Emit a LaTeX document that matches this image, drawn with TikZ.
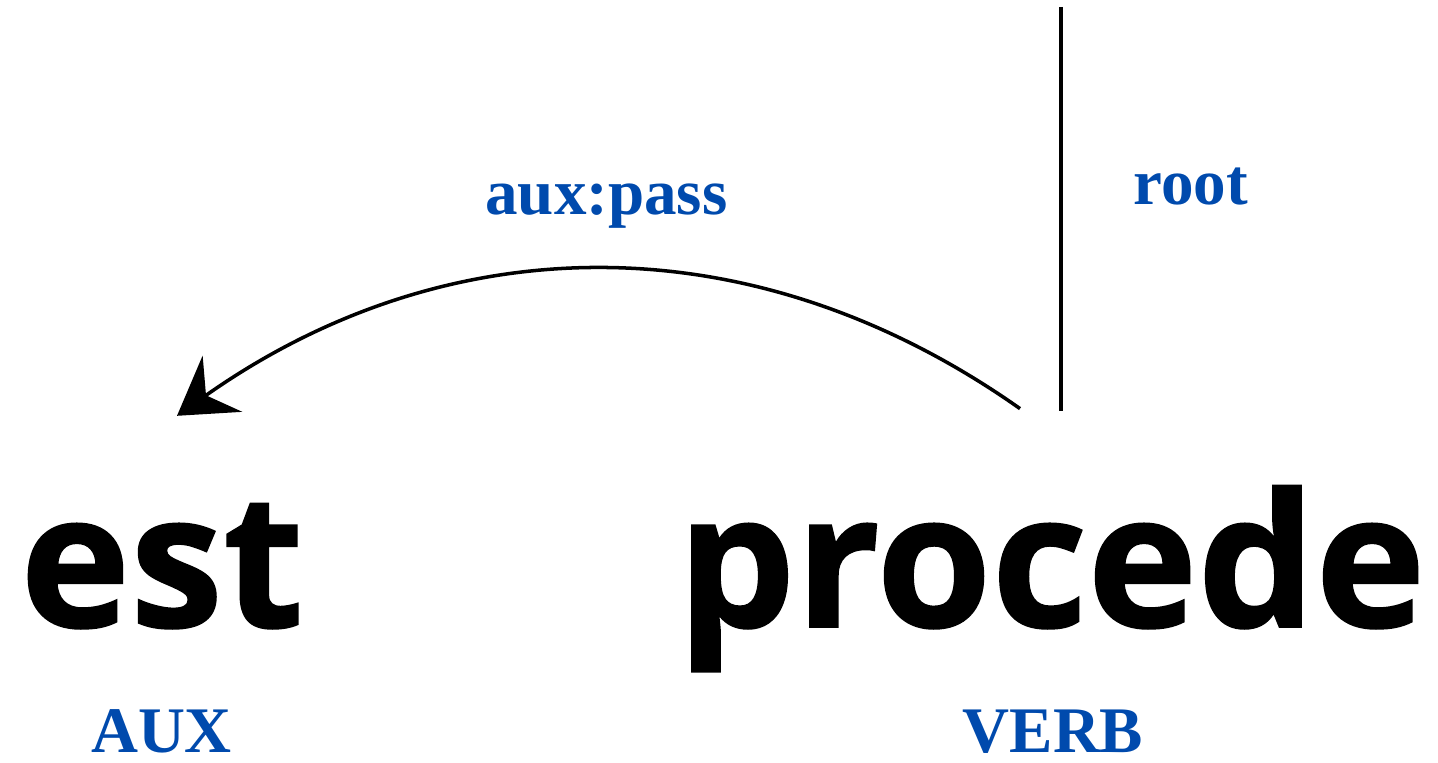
\documentclass[tikz,border=0pt]{standalone}
\usepackage{fontspec}
\newfontfamily\wordfont{Open Sans}[BoldFeatures={FakeBold=1}]
\newfontfamily\labelfont{Liberation Serif}
\usetikzlibrary{arrows.meta}
\definecolor{deplabel}{RGB}{0,74,173}

\begin{document}
\begin{tikzpicture}[
    word/.style={inner sep=0pt, anchor=base, font=\wordfont\bfseries\fontsize{106}{106}\selectfont},
    tag/.style={inner sep=0pt, anchor=base, text=deplabel, font=\labelfont\bfseries\fontsize{37}{37}\selectfont},
    dep/.style={line width=2pt, -{Stealth[length=1.11cm, width=1.37cm, inset=0.4cm]}},
    rootline/.style={line width=2.3pt}
]
    \useasboundingbox (0,0) rectangle (28.76,15.24);

    \node[word] (est)     at (3.24, 2.70)  {est};
    \node[word] (procede) at (21.03, 2.70) {procede};

    \node[tag] (aux)  at (3.23, 0.19)  {AUX};
    \node[tag] (verb) at (21.06, 0.19) {VERB};

    \node[tag] (auxpass) at (12.13, 10.94) {aux:pass};
    \node[tag, anchor=base west] (root) at (22.66, 11.14) {root};

    % root line
    \coordinate (roottop) at (21.22, 15.1);
    \draw[rootline] (roottop) -- ([xshift=0.19cm, yshift=1.49cm]procede.north);

    % dependency arc
    \draw[dep] ([xshift=-0.63cm, yshift=1.53cm]procede.north)
        .. controls (15.02, 10.86) and (8.92, 10.72) ..
        ([xshift=0.30cm, yshift=1.75cm]est.north);
\end{tikzpicture}
\end{document}
